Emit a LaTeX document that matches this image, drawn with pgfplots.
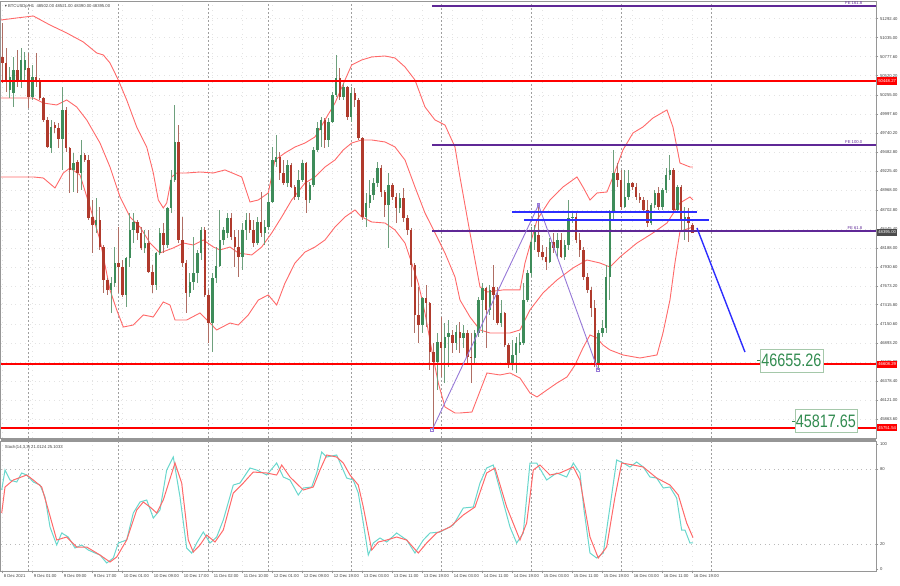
\documentclass[border=0pt]{standalone}
\usepackage{pgfplots}
\pgfplotsset{compat=1.18}
\usepackage{pgfplotstable}
\usepackage{fontspec}
\setmainfont{Liberation Sans}
\newfontfamily\dejavu{DejaVu Sans}
\definecolor{bullc}{RGB}{62,140,90}
\definecolor{bearc}{RGB}{176,58,44}
\definecolor{bullw}{RGB}{110,160,125}
\definecolor{bearw}{RGB}{175,110,100}
\definecolor{bandc}{RGB}{255,105,105}
\definecolor{fec}{RGB}{95,40,150}
\definecolor{fibc}{RGB}{150,120,215}
\definecolor{bluel}{RGB}{45,45,255}
\definecolor{stkc}{RGB}{105,215,205}
\definecolor{stdc}{RGB}{255,105,105}
\definecolor{framec}{RGB}{150,150,150}
\definecolor{lblgreen}{RGB}{50,140,80}
\definecolor{lblborder}{RGB}{165,200,170}
\newcommand\tk{\fontsize{2.1}{2.5}\selectfont}

\pgfplotstableread{
i o h l c
2 50326 50638 50218 50503
3 50286 50774 50096 50597
5 50462 50896 50354 50733
6 50597 50841 50435 50733
8 50232 50665 50191 50503
13 49541 49920 49473 49825
16 49663 50367 49243 50056
19 49243 49473 48944 49337
21 49202 49649 48972 49446
25 48497 48863 48389 48565
29 47617 47793 47305 47711
30 47711 48199 47657 47982
33 47549 48064 47386 48050
34 48050 48660 47928 48430
35 48430 48660 48253 48538
38 48186 48430 48118 48253
41 47684 48131 47617 48118
42 48118 48457 48091 48389
44 48226 48741 48186 48728
45 48728 49243 48660 49107
46 49107 50123 49080 49622
50 47576 47847 47522 47725
51 47725 48335 47617 47847
52 47847 48159 47711 48118
53 48118 48470 48023 48430
56 47169 47847 46776 47779
57 47779 48199 47711 47942
58 47942 48700 47928 48294
59 48294 48470 48226 48430
60 48389 48660 48321 48592
64 48064 48524 47888 48430
65 48430 48660 48294 48565
68 48253 48606 48226 48538
70 48389 48565 48226 48470
71 48470 48931 48430 48809
72 48809 49554 48795 49378
73 49351 49717 49283 49419
76 49066 49378 49012 49310
79 48877 49243 48836 49107
80 49107 49378 49080 49337
82 48836 49080 48795 49039
83 49039 49554 49012 49514
84 49514 49893 49486 49812
85 49784 49961 49554 49920
87 49649 49947 49554 49893
88 49893 50299 49879 50259
89 50259 50801 50232 50489
91 50232 50421 50191 50367
93 49961 50367 49893 50286
97 48606 48931 48470 48795
98 48795 49107 48728 48904
99 48904 49134 48836 49066
100 49066 49351 49012 49270
103 48768 49202 48186 49039
106 48728 48931 48660 48863
112 47142 47522 47034 47508
116 46641 47034 46262 46912
118 46831 47169 46356 46980
119 46980 47210 46573 47034
121 46898 47142 46804 47047
123 46966 47142 46831 47034
126 46695 47075 46627 47034
127 47034 47522 46980 47481
128 47481 47711 47034 47644
130 47346 47684 47278 47617
133 47169 47481 47115 47305
136 46627 46939 46533 46736
137 46736 46980 46492 46898
138 46871 47034 46763 46912
139 46898 47711 46871 47481
140 47481 47888 47454 47847
141 47847 48470 47793 48267
142 48267 48497 48159 48402
146 47996 48321 47982 48267
148 48186 48389 48064 48294
150 48064 48294 48023 48226
151 48226 48836 48159 48592
152 48592 48660 48524 48606
159 46627 47075 46533 47034
160 47034 47210 46980 47102
161 47102 47955 47034 47793
162 47793 48700 47481 48660
163 48660 49514 48565 49202
166 48741 49243 48728 48877
167 48877 49243 48836 49066
173 48524 48795 48497 48768
174 48768 48972 48728 48931
176 48741 48999 48700 48972
177 48972 49270 48931 49175
178 49175 49446 49107 49243
180 48700 49039 48660 49012
182 48565 48741 48294 48606
}\bull

\pgfplotstableread{
i o h l c
0 50774 51234 50421 50692
1 50692 50896 50299 50462
4 50597 50869 50367 50462
7 50625 50828 50083 50232
9 50503 50828 50367 50435
10 50435 50489 50191 50218
11 50218 50232 49893 49920
12 49920 49961 49541 49554
14 49852 49893 49744 49812
15 49812 49879 49541 49663
17 50056 50096 49486 49541
18 49541 49554 48931 49243
20 49351 49378 48931 49202
22 49446 49473 49351 49378
23 49378 49446 48565 48592
24 48606 48836 48118 48497
26 48565 48741 48159 48199
27 48199 48226 47576 47752
28 47752 47779 47549 47617
31 47982 48470 47576 47928
32 47928 48023 47522 47549
36 48538 48565 48294 48389
37 48389 48470 48159 48186
39 48253 48430 47847 47860
40 47860 47955 47576 47684
43 48389 48524 48118 48226
47 49622 49852 48253 48294
48 48294 48606 47928 47982
49 47982 48023 47305 47576
54 48430 48470 47522 47549
55 47549 47617 46898 47169
61 48592 48660 48294 48335
62 48335 48430 47928 48199
63 48199 48430 47793 48064
66 48565 48660 48389 48430
67 48430 48565 48199 48253
69 48538 48944 48335 48389
74 49419 49486 49107 49202
75 49202 49378 49039 49066
77 49310 49337 48999 49012
78 49012 49039 48836 48877
81 49337 49351 48660 48836
86 49920 49947 49541 49649
90 50489 50625 50191 50232
92 50367 50380 49920 49961
94 50286 50354 50096 50191
95 50191 50218 49649 49676
96 49676 49690 48565 48606
101 49270 49310 48877 48944
102 48944 48972 48606 48768
104 49039 49066 48836 48877
105 48877 48931 48524 48728
107 48863 48999 48538 48592
108 48592 48633 48362 48430
109 48430 48457 47657 47955
110 47955 47982 47034 47278
111 47278 47657 46898 47142
113 47508 47684 47115 47440
114 47440 47454 46533 46776
115 46776 46898 45719 46641
117 46912 47251 46438 46831
120 47007 47075 46763 46898
122 47047 47183 46763 46966
124 47034 47075 46627 46709
125 46709 47034 46357 46695
129 47644 47657 46831 47346
131 47657 47955 47210 47549
132 47549 47657 47142 47169
134 47305 47319 46844 46871
135 46871 46898 46560 46627
143 48362 48768 48064 48131
144 48131 48226 48023 48064
145 48064 48199 47888 47996
147 48267 48389 48118 48186
149 48294 48389 48050 48064
153 48606 48660 48253 48294
154 48294 48389 48064 48159
155 48159 48199 47752 47793
156 47793 47847 47576 47617
157 47617 47657 47251 47373
158 47373 47481 46573 46627
164 49202 49337 49012 49107
165 49107 49243 48700 48741
168 49066 49080 48972 49012
169 49012 49066 48836 48877
170 48877 48931 48796 48836
171 48836 48877 48660 48700
172 48700 48836 48470 48524
175 48931 49012 48700 48741
179 49243 49270 48660 48700
181 49012 49039 48430 48565
183 48606 48728 48267 48524
184 48502 48521 48390 48395
}\bear

\pgfplotstableread{
x y
-0.35 51275
3.84 51302
8.27 51329
12.72 51207
17.17 51099
21.6 50977
25.17 50828
26.93 50801
28.72 50692
30.93 50462
33.17 50191
35.84 49825
38.51 49554
40.27 49202
41.6 48836
42.93 48728
43.84 48795
45.17 49148
46.51 49202
49.17 49202
52.72 49215
56.27 49202
59.39 49243
63.84 49148
66.05 48809
68.27 48836
70.93 48931
72.72 49378
75.39 49473
78.05 49554
80.72 49608
83.39 49690
86.05 49920
88.72 50150
91.39 50462
93.17 50665
95.84 50733
98.51 50774
102.05 50787
104.72 50760
107.39 50638
110.05 50462
112.72 50096
115.39 49920
118.05 49852
120.72 49554
122.05 49148
124.72 48389
127.39 47657
129.25 47589
133.52 47617
138.05 47617
139.39 47982
142.59 48565
146.05 48836
149.52 49012
153.25 49148
154.85 49012
156.72 48836
158.59 48931
161.25 48944
162.85 49148
165.52 49514
168.19 49744
170.85 49825
173.52 49947
177.25 50056
178.85 49825
180.72 49337
183.39 49283
184.19 49283
}\bbup

\pgfplotstableread{
x y
-0.35 50218
8.27 50218
10.93 50150
14.51 50123
17.17 50191
19.84 50096
22.51 49920
26.05 49608
28.72 49283
31.39 48877
34.05 48606
36.72 48470
39.39 48253
42.05 48118
45.6 48186
48.27 48253
50.93 48226
53.6 48294
56.27 48199
58.05 48159
60.72 48199
62.93 48118
66.51 48091
69.17 48199
71.84 48389
74.51 48606
77.17 48836
80.72 49066
83.39 49148
86.05 49283
88.72 49378
90.93 49514
93.17 49608
95.84 49649
98.51 49649
102.05 49622
104.72 49554
107.39 49378
110.05 49012
112.72 48660
115.39 48389
118.05 48118
120.72 47793
122.05 47481
124.72 47251
127.39 47075
130.05 47034
135.39 47034
138.05 47075
140.72 47346
144.19 47576
147.92 47752
152.19 47915
155.92 48023
159.39 47982
162.05 47928
164.72 48064
169.25 48253
173.52 48389
177.25 48524
180.72 48795
183.39 48877
184.19 48836
}\bbmid

\pgfplotstableread{
x y
-0.35 49148
8.27 49148
10.93 49134
14.05 48999
16.27 49202
18.05 49270
20.72 49175
23.39 48741
26.05 48294
28.72 47617
30.51 47346
32.27 47115
34.93 47142
37.6 47278
40.27 47251
42.93 47454
44.72 47413
46.05 47210
49.17 47210
52.72 47305
55.39 47169
57.17 47075
60.72 47169
62.93 47142
65.6 47278
68.27 47481
70.93 47549
73.17 47413
75.39 47711
78.05 47982
80.72 48131
83.39 48199
86.05 48294
88.72 48470
91.39 48606
94.05 48700
95.84 48606
98.51 48538
102.05 48524
104.72 48430
107.39 48253
109.17 47982
110.93 47711
112.72 47305
114.51 46804
116.27 46356
118.05 46031
120.72 45950
122.05 45950
125.25 45963
129.25 46492
132.72 46465
135.39 46492
138.05 46424
140.72 46221
142.59 46167
145.25 46262
147.92 46356
150.59 46438
152.72 46600
154.85 46831
156.72 47007
158.59 46966
160.19 46871
162.05 46804
165.52 46736
170.05 46695
174.59 46736
176.19 47034
178.05 47481
179.4 47990
180.72 48410
184.19 48470
}\bblow

\pgfplotstableread{
x y
-0.16 63.2
0.72 79.2
2.05 71.2
3.84 69.6
5.17 76.8
6.51 75.2
8.27 69.6
10.05 67.2
11.39 57.6
12.72 33.6
14.51 19.2
15.84 28.8
17.6 25.6
19.39 16.8
21.17 19.2
22.93 15.2
24.72 12.8
26.05 11.2
27.84 4.8
29.6 8.8
30.93 20.8
33.17 23.2
34.93 44.8
36.72 53.6
38.51 55.2
40.27 40.8
42.05 47.2
43.84 79.2
45.6 89.6
47.39 57.6
49.17 16.8
50.51 12.8
51.84 20.8
53.6 29.6
55.39 20.8
57.17 25.6
58.93 39.2
61.6 67.2
63.39 68.8
66.05 80.8
67.84 79.2
70.51 75.2
73.17 84.8
74.93 73.6
76.72 71.2
78.93 59.2
80.27 64.8
82.51 65.6
83.84 76.8
85.17 93.6
86.51 89.6
89.17 91.2
91.84 72.8
93.6 71.2
94.93 60.8
96.27 36.8
97.6 11.2
98.93 20.8
100.72 24.8
102.51 21.6
105.17 28.8
107.84 23.2
110.05 12.8
112.27 23.2
114.05 28.8
116.72 29.6
120.27 35.2
122.93 48.8
125.6 49.6
127.39 68.8
129.17 80.8
130.93 83.2
132.72 63.2
135.39 33.6
137.17 20.8
138.93 28.8
140.72 84.8
142.51 84.8
145.17 71.2
147.84 76.8
150.51 73.6
152.27 84.8
154.05 76.8
155.13 47.2
156.72 12.8
158.51 8.8
160.27 12.8
162.05 49.6
163.84 87.2
165.6 84.8
167.39 81.6
169.17 85.6
170.93 81.6
172.72 73.6
174.51 72.8
176.27 64.8
178.05 65.6
179.84 56.8
181.17 31.2
182.05 31.2
183.39 20.8
184.2 21.0
}\stochk

\pgfplotstableread{
x y
-0.16 44.8
0.72 65.6
2.93 71.2
6.51 75.2
8.27 71.2
10.51 65.6
12.27 47.2
14.51 23.2
17.17 25.6
19.84 17.6
22.51 17.6
26.05 11.2
28.72 5.6
30.51 9.6
33.17 23.2
35.84 47.2
37.6 53.6
39.39 49.6
41.17 44.8
42.93 55.2
46.05 84.8
47.84 68.8
49.6 23.2
50.93 13.6
52.72 19.2
54.51 27.2
56.72 21.6
58.93 31.2
61.6 60.8
64.27 68.8
66.93 77.6
70.51 76.8
73.17 75.2
74.51 83.2
76.72 73.6
80.27 63.2
82.93 65.6
84.72 79.2
86.51 91.2
89.17 89.6
90.93 84.8
92.72 75.2
94.93 67.2
96.27 49.6
98.51 15.2
100.27 21.6
102.51 23.2
105.17 25.6
107.84 23.2
110.93 12.8
113.17 20.8
115.84 28.8
119.39 33.6
122.93 43.2
126.05 49.6
129.17 76.8
131.39 80.8
134.51 49.6
138.05 23.2
139.84 36.8
141.6 79.2
143.39 83.2
146.05 75.2
148.72 76.8
152.27 81.6
154.05 71.2
156.72 25.6
158.93 8.8
161.17 17.6
163.39 57.6
165.17 84.8
168.27 83.2
170.93 81.6
174.51 72.8
178.05 67.2
180.27 59.2
182.51 36.8
184.2 25.1
}\stochd

\begin{document}
\begin{tikzpicture}
\useasboundingbox (0,0) rectangle (450pt,-292.5pt);
\begin{axis}[
  at={(0.5pt,-0.5pt)}, anchor=north west,
  scale only axis, width=437.5pt, height=218.5pt,
  xmin=-0.35, xmax=233, ymin=45611, ymax=51532,
  clip=false,
  axis line style={framec, line width=0.5pt},
  xtick={0,8,...,184}, xticklabels={},
  xtick style={draw=none},
  ytick={45606.2,45863.6,46121,46378.4,46635.8,46893.2,47150.6,47415.8,47673.2,47930.6,48188,48445.4,48702.8,48968,49225.4,49482.8,49740.2,49997.6,50255,50520.2,50777.6,51035,51292.4},
  ytick pos=right, yticklabel pos=right,
  ytick style={framec, line width=0.3pt},
  major tick length=1.2pt, tick align=outside,
  scaled y ticks=false,
  /pgf/number format/assume math mode=true,
  yticklabel style={font=\tk, text=black!75, inner sep=0.6pt,
    /pgf/number format/fixed, /pgf/number format/fixed zerofill,
    /pgf/number format/precision=2, /pgf/number format/1000 sep={}},
  xmajorgrids, ymajorgrids,
  grid style={gray!22, dotted, line width=0.3pt},
  extra x ticks={6.85,30.85,54.85,70.9,93,117.2,141.2,165.2,189.2},
  extra x tick labels={},
  extra x tick style={grid=major, tick style={draw=none},
    major grid style={gray!75, dash pattern=on 1pt off 1pt, line width=0.35pt}},
]
% Bollinger bands
\addplot[bandc, line width=0.45pt, forget plot] table {\bbup};
\addplot[bandc, line width=0.45pt, forget plot] table {\bbmid};
\addplot[bandc, line width=0.45pt, forget plot] table {\bblow};
% wicks
\addplot[forget plot, draw=none, mark=none, error bars/.cd, y dir=plus, y explicit, error mark=none,
  error bar style={draw=bullw, line width=0.4pt}]
  table[x=i, y=l, y error expr={\thisrow{h}-\thisrow{l}}] {\bull};
\addplot[forget plot, draw=none, mark=none, error bars/.cd, y dir=plus, y explicit, error mark=none,
  error bar style={draw=bearw, line width=0.4pt}]
  table[x=i, y=l, y error expr={\thisrow{h}-\thisrow{l}}] {\bear};
% bodies
\addplot[forget plot, draw=none, mark=none, error bars/.cd, y dir=plus, y explicit, error mark=none,
  error bar style={draw=bullc, line width=1.25pt}]
  table[x=i, y=o, y error expr={\thisrow{c}-\thisrow{o}}] {\bull};
\addplot[forget plot, draw=none, mark=none, error bars/.cd, y dir=plus, y explicit, error mark=none,
  error bar style={draw=bearc, line width=1.25pt}]
  table[x=i, y=c, y error expr={\thisrow{o}-\thisrow{c}}] {\bear};
% horizontal red levels
\addplot[red, line width=1.1pt, forget plot] coordinates {(-0.35,50448.27) (233,50448.27)};
\addplot[red, line width=1.1pt, forget plot] coordinates {(-0.35,46608.29) (233,46608.29)};
\addplot[red, line width=1.1pt, forget plot] coordinates {(-0.35,45751.54) (233,45751.54)};
% Fibonacci expansion levels
\addplot[fec, line width=1pt, forget plot] coordinates {(114.6,51466) (233,51466)};
\addplot[fec, line width=1pt, forget plot] coordinates {(114.6,49582) (233,49582)};
\addplot[fec, line width=1pt, forget plot] coordinates {(114.6,48417) (233,48417)};
\addplot[fibc, line width=0.45pt, mark=square, mark size=0.6pt, mark options={solid, fibc}, forget plot]
  coordinates {(114.6,45719) (143.0,48768) (158.85,46533)};
% blue lines
\addplot[bluel, line width=0.9pt, forget plot] coordinates {(135.9,48673) (185.25,48673)};
\addplot[bluel, line width=0.9pt, forget plot] coordinates {(139.1,48565) (188.5,48565)};
\addplot[bluel, line width=0.7pt, forget plot] coordinates {(185.25,48457) (198.05,46776)};
% texts
\node[anchor=north west, font=\tk, text=black!75, inner sep=0.4pt] at (rel axis cs:0.003,0.994)
  {{\dejavu\fontsize{2.1}{2.5}\selectfont ▾} BTCUSDp,H1\ \ 48502.00 48521.00 48390.00 48395.00};
\node[anchor=south east, font=\tk, text=fec, inner sep=0.3pt] at (axis cs:229.6,51466) {FE 161.8};
\node[anchor=south east, font=\tk, text=fec, inner sep=0.3pt] at (axis cs:229.6,49582) {FE 100.0};
\node[anchor=south east, font=\tk, text=fec, inner sep=0.3pt] at (axis cs:229.6,48417) {FE 61.8};
\node (lblA) [draw=lblborder, line width=0.4pt, fill=white, text=lblgreen, font=\fontsize{9}{10}\selectfont,
  minimum width=31.5pt, minimum height=11.5pt, inner sep=0pt] at (axis cs:210.45,46661) {\scalebox{0.8}[1]{46655.26}};
\node (lblB) [draw=lblborder, line width=0.4pt, fill=white, text=lblgreen, font=\fontsize{9}{10}\selectfont,
  minimum width=31pt, minimum height=11.5pt, inner sep=0pt] at (axis cs:219.65,45841) {\scalebox{0.8}[1]{45817.65}};
\coordinate (p1) at (axis cs:233,50448.27);
\coordinate (p2) at (axis cs:233,46608.29);
\coordinate (p3) at (axis cs:233,45751.54);
\coordinate (p4) at (axis cs:233,48395);
\end{axis}
\draw[lblgreen, line width=0.4pt] (lblA.west) -- ++(-1.5pt,0pt);
\draw[lblgreen, line width=0.4pt] (lblB.west) -- ++(-1.5pt,0pt);
\node[anchor=west, fill=red, text=white, font=\tk, inner xsep=0.6pt, inner ysep=0.3pt, minimum height=3.8pt, xshift=0.4pt] at (p1) {50448.27};
\node[anchor=west, fill=red, text=white, font=\tk, inner xsep=0.6pt, inner ysep=0.3pt, minimum height=3.8pt, xshift=0.4pt] at (p2) {46608.29};
\node[anchor=west, fill=red, text=white, font=\tk, inner xsep=0.6pt, inner ysep=0.3pt, minimum height=3.8pt, xshift=0.4pt] at (p3) {45751.54};
\node[anchor=west, fill=black!70, text=white, font=\tk, inner xsep=0.6pt, inner ysep=0.3pt, minimum height=3.8pt, xshift=0.4pt] at (p4) {48395.00};
\fill[framec] (0.5pt,-219pt) rectangle (438pt,-220.5pt);
\begin{axis}[
  at={(0.5pt,-220.5pt)}, anchor=north west,
  scale only axis, width=437.5pt, height=65pt,
  xmin=-0.35, xmax=233, ymin=-1.6, ymax=102.4,
  axis line style={framec, line width=0.5pt},
  xtick={0,8,...,184},
  xticklabels={8 Dec 2021,9 Dec 01:00,9 Dec 09:00,9 Dec 17:00,10 Dec 01:00,10 Dec 09:00,10 Dec 17:00,11 Dec 02:00,11 Dec 10:00,12 Dec 01:00,12 Dec 09:00,12 Dec 19:00,13 Dec 03:00,13 Dec 11:00,13 Dec 19:00,14 Dec 03:00,14 Dec 11:00,14 Dec 19:00,15 Dec 03:00,15 Dec 11:00,15 Dec 19:00,16 Dec 03:00,16 Dec 11:00,16 Dec 19:00},
  xticklabel style={font=\tk, text=black!75, anchor=north west, inner sep=0.6pt},
  xtick style={framec, line width=0.3pt},
  ytick={0,100}, ytick pos=right, yticklabel pos=right,
  ytick style={framec, line width=0.3pt},
  yticklabel style={font=\tk, text=black!75, inner sep=0.6pt},
  /pgf/number format/assume math mode=true,
  major tick length=1.2pt, tick align=outside,
  xmajorgrids,
  grid style={gray!22, dotted, line width=0.3pt},
  extra y ticks={20,80},
  extra y tick style={grid=major, major grid style={gray!55, dotted, line width=0.35pt}},
  extra x ticks={6.85,30.85,54.85,70.9,93,117.2,141.2,165.2,189.2},
  extra x tick labels={},
  extra x tick style={grid=major, tick style={draw=none},
    major grid style={gray!75, dash pattern=on 1pt off 1pt, line width=0.35pt}},
]
\addplot[stkc, line width=0.5pt, forget plot] table {\stochk};
\addplot[stdc, line width=0.5pt, forget plot] table {\stochd};
\node[anchor=north west, font=\tk, text=black!75, inner sep=0.4pt] at (rel axis cs:0.003,0.975) {Stoch(14,3,3) 21.0124 25.1033};
\end{axis}
\end{tikzpicture}
\end{document}
